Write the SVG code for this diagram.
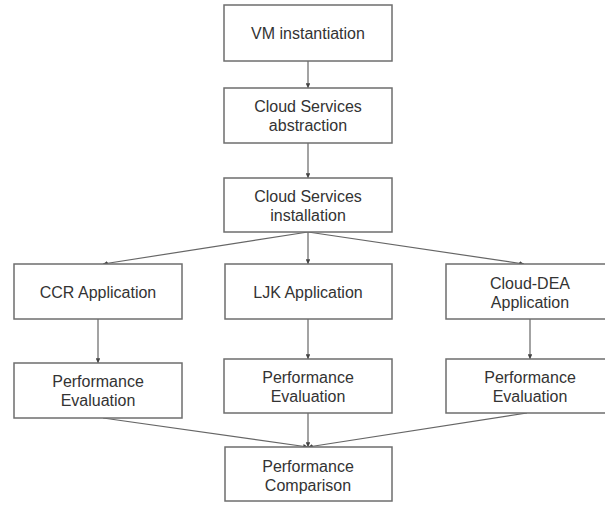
<svg xmlns="http://www.w3.org/2000/svg" width="605" height="507" viewBox="0 0 605 507">
<style>
.box{fill:#fff;stroke:#6e6e6e;stroke-width:1.5}
.lbl{font-family:"Liberation Sans",Arial,sans-serif;font-size:16px;fill:#333;text-anchor:middle}
.edge{fill:none;stroke:#666;stroke-width:1.2;marker-end:url(#ah)}
</style>
<defs>
<marker id="ah" viewBox="0 0 6 6" refX="6" refY="3" markerWidth="4" markerHeight="4" orient="auto" markerUnits="strokeWidth">
<path d="M0,0 L6,3 L0,6 z" fill="#444"/>
</marker>
</defs>
<rect width="605" height="507" fill="#fff"/>
<g id="connectors">
<line class="edge" x1="308" y1="61" x2="308" y2="88"/>
<line class="edge" x1="308" y1="143" x2="308" y2="178"/>
<line class="edge" x1="308" y1="232" x2="103" y2="264"/>
<line class="edge" x1="308" y1="232" x2="308" y2="264"/>
<line class="edge" x1="308" y1="232" x2="524" y2="264"/>
<line class="edge" x1="98" y1="319" x2="98" y2="363"/>
<line class="edge" x1="308" y1="319" x2="308" y2="359"/>
<line class="edge" x1="530" y1="319" x2="530" y2="359"/>
<line class="edge" x1="103" y1="418" x2="308" y2="447"/>
<line class="edge" x1="308" y1="413" x2="308" y2="447"/>
<line class="edge" x1="527" y1="413" x2="308" y2="447"/>
</g>
<g id="vm">
<rect class="box" x="224" y="5" width="168" height="56"/>
<text class="lbl" x="308" y="39">VM instantiation</text>
</g>
<g id="abstraction">
<rect class="box" x="224" y="88" width="168" height="55"/>
<text class="lbl" x="308" y="112">Cloud Services</text>
<text class="lbl" x="308" y="131">abstraction</text>
</g>
<g id="installation">
<rect class="box" x="224" y="178" width="168" height="54"/>
<text class="lbl" x="308" y="202">Cloud Services</text>
<text class="lbl" x="308" y="221">installation</text>
</g>
<g id="ccr">
<rect class="box" x="14" y="264" width="168" height="55"/>
<text class="lbl" x="98" y="298">CCR Application</text>
</g>
<g id="ljk">
<rect class="box" x="225" y="264" width="167" height="55"/>
<text class="lbl" x="308" y="298">LJK Application</text>
</g>
<g id="clouddea">
<rect class="box" x="446" y="264" width="168" height="55"/>
<text class="lbl" x="530" y="289">Cloud-DEA</text>
<text class="lbl" x="530" y="308">Application</text>
</g>
<g id="perf-ccr">
<rect class="box" x="14" y="363" width="168" height="55"/>
<text class="lbl" x="98" y="387">Performance</text>
<text class="lbl" x="98" y="406">Evaluation</text>
</g>
<g id="perf-ljk">
<rect class="box" x="224" y="359" width="168" height="54"/>
<text class="lbl" x="308" y="383">Performance</text>
<text class="lbl" x="308" y="402">Evaluation</text>
</g>
<g id="perf-clouddea">
<rect class="box" x="446" y="359" width="168" height="54"/>
<text class="lbl" x="530" y="383">Performance</text>
<text class="lbl" x="530" y="402">Evaluation</text>
</g>
<g id="comparison">
<rect class="box" x="225" y="447" width="167" height="54"/>
<text class="lbl" x="308" y="472">Performance</text>
<text class="lbl" x="308" y="491">Comparison</text>
</g>
</svg>
